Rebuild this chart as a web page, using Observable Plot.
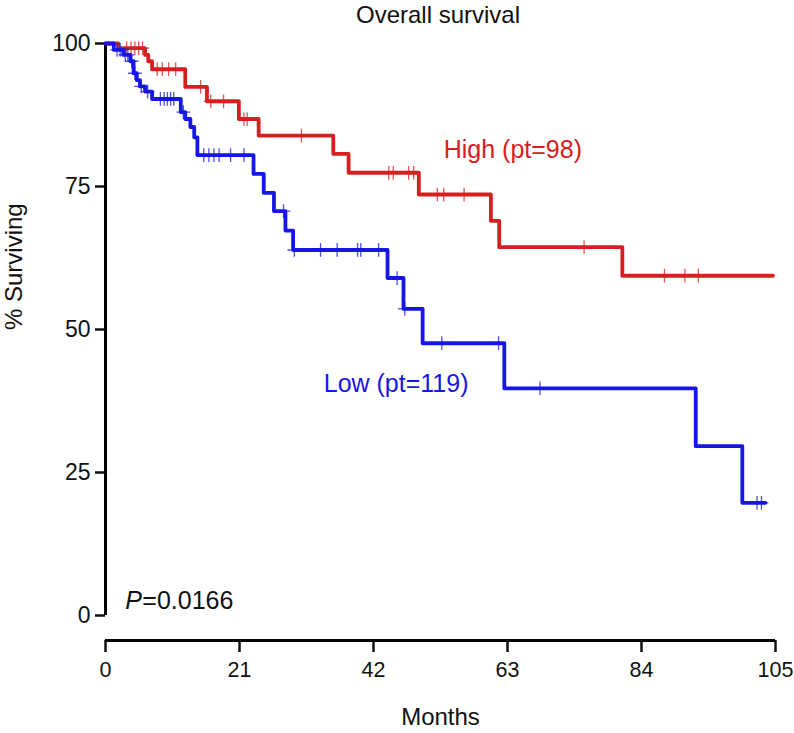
<!DOCTYPE html>
<html><head><meta charset="utf-8">
<script src="https://cdn.jsdelivr.net/npm/d3@7"></script>
<script src="https://cdn.jsdelivr.net/npm/@observablehq/plot@0.6"></script>
<style>
body{margin:0;background:#fff;font-family:"Liberation Sans",Arial,Helvetica,sans-serif;}
#title{height:28px;width:794px;position:relative;}
#title span{position:absolute;left:438px;transform:translateX(-50%);top:1px;font-size:24px;white-space:nowrap;color:#111}
</style></head><body>
<div id="title"><span>Overall survival</span></div>
<div id="chart"></div>
<script>
// ---- Data ----
const highTime = [0, 2.0, 6.2, 6.7, 7.3, 12.5, 15.9, 20.9, 24.0, 35.7, 38.1, 49.1, 60.4, 61.7, 81.0, 104.6];
const highSurv = [100, 99.2, 98.0, 96.9, 95.5, 92.4, 89.9, 86.8, 83.9, 80.7, 77.4, 73.6, 69.0, 64.4, 59.4, 59.4];
const highCensor = [3.3, 4.0, 4.6, 5.2, 5.8, 8.1, 8.9, 9.9, 11.0, 14.9, 16.5, 18.5, 21.7, 22.2, 30.7, 44.4, 45.1, 47.5, 48.3, 52.0, 53.0, 56.2, 75.0, 87.6, 90.8, 92.9];

const lowTime = [0, 1.3, 2.8, 3.9, 4.4, 4.9, 5.4, 6.2, 7.3, 11.8, 12.5, 13.3, 13.9, 14.4, 23.2, 24.8, 26.4, 28.2, 29.4, 44.2, 46.7, 49.7, 62.5, 92.5, 99.8, 103.4];
const lowSurv = [100, 98.9, 98.0, 96.9, 94.8, 93.6, 92.5, 91.6, 90.3, 88.0, 86.8, 85.4, 83.6, 80.5, 77.2, 73.9, 70.7, 67.3, 63.9, 59.0, 53.6, 47.6, 39.7, 29.6, 19.7, 19.7];
const lowCensor = [1.8, 2.3, 3.1, 3.5, 4.1, 4.6, 5.6, 6.6, 8.6, 9.2, 9.7, 10.2, 10.7, 12.2, 15.4, 16.2, 17.0, 17.8, 19.6, 21.7, 27.9, 29.6, 33.7, 36.3, 39.5, 40.0, 42.8, 45.7, 46.9, 52.7, 61.6, 68.1, 102.1, 102.8];

const groupNames = ["High (pt=98)", "Low (pt=119)"];
const groupColors = ["#d42020", "#1616e6"];
const labelX = [53, 34.2];
const labelY = [81.4, 40.4];

const xTicks = [0, 21, 42, 63, 84, 105];
const yTicks = [0, 25, 50, 75, 100];
const pText = "=0.0166";
const pX = 3.1, pY = 2.6;

// ---- Build tables ----
const curve = (t, s, g) => t.map((d, i) => ({t: d, s: s[i], g}));
const survAt = (t, s, x) => { let v = s[0]; for (let i = 0; i < t.length; i++) if (t[i] <= x) v = s[i]; return v; };
const highData = curve(highTime, highSurv, groupNames[0]);
const lowData = curve(lowTime, lowSurv, groupNames[1]);
const highC = highCensor.map(x => ({t: x, s: survAt(highTime, highSurv, x)}));
const lowC = lowCensor.map(x => ({t: x, s: survAt(lowTime, lowSurv, x)}));
const labels = groupNames.map((n, i) => ({n, x: labelX[i], y: labelY[i], c: groupColors[i]}));

const yMin = -4.37;
const chart = Plot.plot({
  width: 794, height: 705,
  marginTop: 15, marginLeft: 105, marginRight: 19, marginBottom: 93,
  x: {domain: [0, 105]},
  y: {domain: [yMin, 100]},
  style: {fontFamily: "'Liberation Sans', Arial, Helvetica, sans-serif", fontSize: "24px", color: "#111", background: "white"},
  marks: [
    Plot.ruleX([0], {y1: 0, y2: 100, strokeWidth: 3, stroke: "#000"}),
    Plot.ruleY([yMin], {x1: 0, x2: 105, strokeWidth: 3, stroke: "#000"}),
    Plot.axisY({ticks: yTicks, tickSize: 10, tickPadding: 5, strokeWidth: 2.5, label: null, fontSize: 23}),
    Plot.axisX({ticks: xTicks, tickSize: 12, tickPadding: 9, strokeWidth: 2.5, label: null, fontSize: 21.5}),
    Plot.text(["Months"], {frameAnchor: "bottom", dy: 84, fontSize: 24}),
    Plot.text(["% Surviving"], {frameAnchor: "left", rotate: -90, dx: -91, dy: -12, fontSize: 24}),
    Plot.line(highData, {x: "t", y: "s", curve: "step-after", stroke: groupColors[0], strokeWidth: 3.8}),
    Plot.dot(highC, {x: "t", y: "s", symbol: "plus", r: 4.5, stroke: groupColors[0], strokeWidth: 1.3, strokeOpacity: 0.75}),
    Plot.line(lowData, {x: "t", y: "s", curve: "step-after", stroke: groupColors[1], strokeWidth: 3.8}),
    Plot.dot(lowC, {x: "t", y: "s", symbol: "plus", r: 4.5, stroke: groupColors[1], strokeWidth: 1.3, strokeOpacity: 0.75}),
    Plot.text(labels, {x: "x", y: "y", text: "n", fill: "c", textAnchor: "start", fontSize: 25}),
    Plot.text(["P"], {x: () => pX, y: () => pY, fontStyle: "italic", textAnchor: "start", fontSize: 25}),
    Plot.text([pText], {x: () => pX, y: () => pY, dx: 17, textAnchor: "start", fontSize: 25})
  ]
});
document.getElementById("chart").appendChild(chart);
</script></body></html>
